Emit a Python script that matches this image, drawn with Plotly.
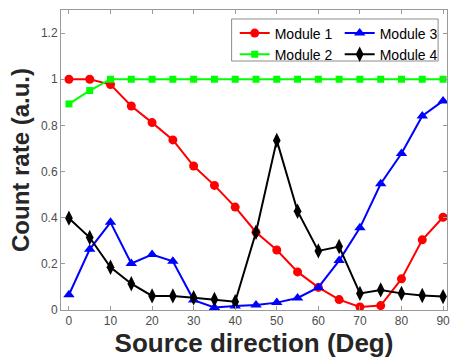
import plotly.graph_objects as go

angles = [0, 5, 10, 15, 20, 25, 30, 35, 40, 45, 50, 55, 60, 65, 70, 75, 80, 85, 90]
module1 = [1.0, 1.0, 0.977, 0.884, 0.812, 0.737, 0.624, 0.540, 0.446, 0.337, 0.260, 0.165,
           0.098, 0.045, 0.013, 0.019, 0.135, 0.304, 0.402]
module2 = [0.893, 0.951, 1.0, 1.0, 1.0, 1.0, 1.0, 1.0, 1.0, 1.0, 1.0, 1.0,
           1.0, 1.0, 1.0, 1.0, 1.0, 1.0, 1.0]
module3 = [0.066, 0.263, 0.380, 0.202, 0.240, 0.211, 0.043, 0.011, 0.017, 0.022, 0.032, 0.052,
           0.098, 0.214, 0.356, 0.547, 0.678, 0.841, 0.906]
module4 = [0.398, 0.314, 0.185, 0.114, 0.061, 0.061, 0.053, 0.046, 0.036, 0.337, 0.735, 0.428,
           0.256, 0.275, 0.072, 0.087, 0.072, 0.063, 0.058]

x_ticks = [0, 10, 20, 30, 40, 50, 60, 70, 80, 90]
y_ticks = [0, 0.2, 0.4, 0.6, 0.8, 1.0, 1.2]
y_ticklabels = ["0", "0.2", "0.4", "0.6", "0.8", "1", "1.2"]

FONT = "Liberation Sans, Arial, sans-serif"
AX = "#9a9a9a"

fig = go.Figure()
series = [
    ("Module 1", module1, "#ff0000", "circle", 9, "legend"),
    ("Module 2", module2, "#00ff00", "square", 7, "legend"),
    ("Module 3", module3, "#0000ff", "triangle-up", 10, "legend2"),
    ("Module 4", module4, "#000000", "diamond-tall", 11, "legend2"),
]
for name, vals, col, sym, sz, lg in series:
    fig.add_trace(go.Scatter(
        x=angles, y=vals, name=name, mode="lines+markers",
        line=dict(color=col, width=2),
        marker=dict(symbol=sym, size=sz, color=col),
        legend=lg,
    ))

fig.add_shape(type="rect", xref="paper", yref="paper",
              x0=0.442, x1=0.977, y0=0.83, y1=0.97,
              line=dict(color="#8c8c8c", width=1), fillcolor="white", layer="below")

legend_common = dict(
    xanchor="left", yanchor="top", bgcolor="rgba(0,0,0,0)", borderwidth=0,
    font=dict(family=FONT, size=14, color="#000000"), tracegroupgap=0,
)

fig.update_layout(
    width=451, height=363,
    margin=dict(l=61, r=1, t=10, b=53),
    paper_bgcolor="white", plot_bgcolor="white",
    font=dict(family=FONT, color="#262626"),
    legend=dict(x=0.45, y=0.975, **legend_common),
    legend2=dict(x=0.722, y=0.975, **legend_common),
    xaxis=dict(
        range=[-1.91, 90.95], tickvals=x_ticks, ticks="inside", ticklen=4,
        tickcolor=AX, linecolor=AX, linewidth=1, mirror="ticks", showgrid=False,
        zeroline=False, ticklabeloverflow="allow",
        tickfont=dict(family=FONT, size=12, color="#4d4d4d"),
        title=dict(text="<b>Source direction (Deg)</b>", font=dict(family=FONT, size=26, color="#262626"),
                   standoff=4),
    ),
    yaxis=dict(
        range=[0, 1.3], tickvals=y_ticks, ticktext=y_ticklabels, ticks="inside", ticklen=4,
        tickcolor=AX, linecolor=AX, linewidth=1, mirror="ticks", showgrid=False,
        zeroline=False, tickfont=dict(family=FONT, size=12, color="#4d4d4d"),
        title=dict(text="<b>Count rate (a.u.)</b>", font=dict(family=FONT, size=24, color="#262626"),
                   standoff=4),
    ),
)

fig.write_html("out.html")
